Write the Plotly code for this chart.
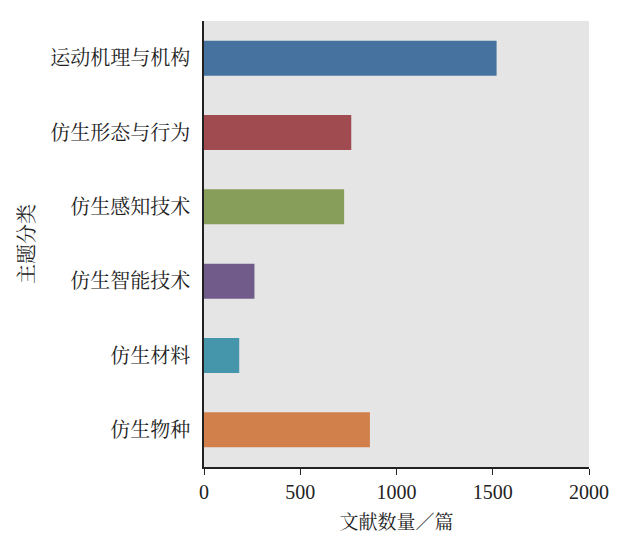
import plotly.graph_objects as go

categories = ['运动机理与机构', '仿生形态与行为', '仿生感知技术', '仿生智能技术', '仿生材料', '仿生物种']
counts = [1520, 765, 728, 262, 183, 862]
colors = ['#46729f', '#a04b4f', '#869e5a', '#705b8b', '#4596aa', '#d2804b']

FONT = 'Liberation Serif, Noto Serif CJK SC, Noto Sans CJK SC, serif'

fig = go.Figure(go.Bar(
    x=counts,
    y=categories,
    orientation='h',
    marker=dict(color=colors, line=dict(width=0)),
    width=0.47,
))

# page body has an 8px margin, so margins are offset accordingly
fig.update_layout(
    width=623, height=549,
    margin=dict(l=196, r=42, t=13, b=90),
    plot_bgcolor='#e5e5e5',
    paper_bgcolor='white',
    font=dict(family=FONT, size=19, color='#222222'),
    showlegend=False,
)

fig.update_xaxes(
    range=[0, 2000], tickvals=[0, 500, 1000, 1500, 2000],
    showgrid=False, zeroline=False,
    showline=True, linecolor='#222222', linewidth=1.5,
    ticks='outside', ticklen=6, tickcolor='#222222',
    tickfont=dict(size=20),
    title=dict(text='文献数量／篇', font=dict(size=19), standoff=14),
)

fig.update_yaxes(
    autorange='reversed',
    showgrid=False, zeroline=False,
    showline=True, linecolor='#222222', linewidth=1.5,
    ticks='', ticklabelstandoff=8,
    tickfont=dict(size=20),
    title=dict(text='主题分类', font=dict(size=20), standoff=10),
)

fig.write_html("out.html")
